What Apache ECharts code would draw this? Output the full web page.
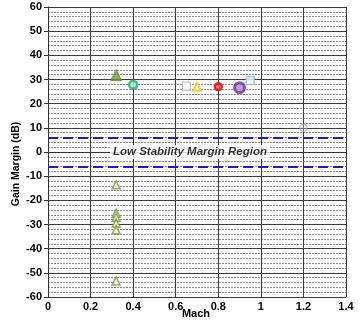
<!DOCTYPE html>
<html>
<head>
<meta charset="utf-8">
<script src="https://cdn.jsdelivr.net/npm/echarts@6/dist/echarts.min.js"></script>
<style>
  html, body { margin: 0; padding: 0; background: #fff; }
  #chart { width: 360px; height: 320px; }
</style>
</head>
<body>
<div id="chart"></div>
<script>
// Gain margin vs Mach, per test configuration
const greenFilledMach = [0.32];
const greenFilledGM = [31.8];
const tealCircleMach = [0.40];
const tealCircleGM = [27.8];
const graySquareMach = [0.65];
const graySquareGM = [27.3];
const yellowTriMach = [0.70];
const yellowTriGM = [27.0];
const redMach = [0.80];
const redGM = [27.0];
const purpleMach = [0.90];
const purpleGM = [26.6];
const blueSquareMach = [0.95];
const blueSquareGM = [29.6];
const pinkMach = [1.20];
const pinkGM = [10.0];
const greenOpenMach = [0.32, 0.32, 0.32, 0.32, 0.32, 0.32];
const greenOpenGM = [-13.6, -25.3, -27.0, -29.4, -32.2, -53.4];

// Low stability margin boundaries (dB)
const marginBounds = [6, -6];
const regionLabel = 'Low Stability Margin Region';
const regionLabelPos = [0.667, 0];

const xTicks = { min: 0, max: 1.4, interval: 0.2 };
const yTicks = { min: -60, max: 60, interval: 10 };

const pair = (xs, ys) => xs.map((x, i) => [x, ys[i]]);

const chart = echarts.init(document.getElementById('chart'), null, { renderer: 'canvas' });

const labelFont = { fontFamily: 'Liberation Sans, Arial, sans-serif', fontWeight: 'bold', fontSize: 11, color: '#000' };

function pointSeries(name, data, symbol, size, style) {
  return { name, type: 'scatter', data, symbol, symbolSize: size, itemStyle: style, z: 5 };
}

chart.setOption({
  backgroundColor: '#fff',
  animation: false,
  grid: { left: 48, right: 14, top: 7, bottom: 23, containLabel: false, outerBoundsMode: 'none' },
  xAxis: {
    type: 'value', min: xTicks.min, max: xTicks.max, interval: xTicks.interval,
    axisLine: { lineStyle: { color: '#333', width: 1 } },
    axisTick: { show: true, length: 4, lineStyle: { color: '#333' } },
    axisLabel: Object.assign({ margin: 4, formatter: v => String(Math.round(v * 10) / 10) }, labelFont),
    splitLine: { show: true, lineStyle: { color: '#3a3a3a', width: 1 } }
  },
  yAxis: {
    type: 'value', min: yTicks.min, max: yTicks.max, interval: yTicks.interval,
    axisLine: { show: true, lineStyle: { color: '#333', width: 1 } },
    axisTick: { show: true, length: 4, lineStyle: { color: '#333' } },
    axisLabel: Object.assign({ margin: 6 }, labelFont),
    splitLine: { show: true, lineStyle: { color: '#3a3a3a', width: 1 } },
    minorTick: { show: false, splitNumber: 5 },
    minorSplitLine: { show: true, lineStyle: { color: '#8c8c8c', width: 1, type: [2, 1] } }
  },
  graphic: [{
    type: 'text', rotation: Math.PI / 2,
    x: 16, y: 164,
    style: {
      text: 'Gain Margin (dB)', textAlign: 'center', textVerticalAlign: 'middle',
      font: 'bold 10.5px "Liberation Sans", Arial, sans-serif', fill: '#000'
    }
  }, {
    type: 'text',
    x: 196, y: 314,
    style: {
      text: 'Mach', textAlign: 'center', textVerticalAlign: 'middle',
      font: 'bold 11px "Liberation Sans", Arial, sans-serif', fill: '#000'
    }
  }],
  series: [
    {
      name: 'bounds', type: 'line', data: [], silent: true,
      markLine: {
        symbol: 'none', silent: true, label: { show: false },
        lineStyle: { color: '#1a1ad8', width: 2, type: [10, 5] },
        data: marginBounds.map(v => ({ yAxis: v }))
      }
    },
    {
      name: 'region', type: 'scatter', data: [regionLabelPos], symbolSize: 0, z: 4,
      label: {
        show: true, position: 'inside', formatter: regionLabel,
        fontFamily: 'Liberation Sans, Arial, sans-serif', fontStyle: 'italic', fontWeight: 'bold',
        fontSize: 11.5, color: '#000', backgroundColor: '#fff', padding: [1, 3]
      }
    },
    pointSeries('A', pair(greenFilledMach, greenFilledGM), 'triangle', 11, { color: '#6f9a35', borderColor: '#5d8a2a', borderWidth: 1 }),
    pointSeries('B', pair(tealCircleMach, tealCircleGM), 'circle', 8, { color: '#b9ead0', borderColor: '#1fae6a', borderWidth: 2.5 }),
    pointSeries('C', pair(graySquareMach, graySquareGM), 'rect', 8, { color: '#fff', borderColor: '#b0b0b0', borderWidth: 1.2 }),
    pointSeries('D', pair(yellowTriMach, yellowTriGM), 'triangle', 8, { color: '#fff8c0', borderColor: '#efc41a', borderWidth: 2 }),
    pointSeries('E', pair(redMach, redGM), 'circle', 7, { color: '#ff6060', borderColor: '#e00000', borderWidth: 2.5 }),
    pointSeries('F', pair(purpleMach, purpleGM), 'circle', 10, { color: '#b38ad6', borderColor: '#7030a0', borderWidth: 3 }),
    pointSeries('G', pair(blueSquareMach, blueSquareGM), 'rect', 8, { color: '#eef6fc', borderColor: '#8fbedd', borderWidth: 1.5 }),
    pointSeries('H', pair(pinkMach, pinkGM), 'circle', 7, { color: 'rgba(255,255,255,0.3)', borderColor: '#d890a8', borderWidth: 1.2 }),
    pointSeries('I', pair(greenOpenMach, greenOpenGM), 'triangle', 8, { color: '#f4f8e8', borderColor: '#77963c', borderWidth: 1.5 })
  ]
});
</script>
</body>
</html>
